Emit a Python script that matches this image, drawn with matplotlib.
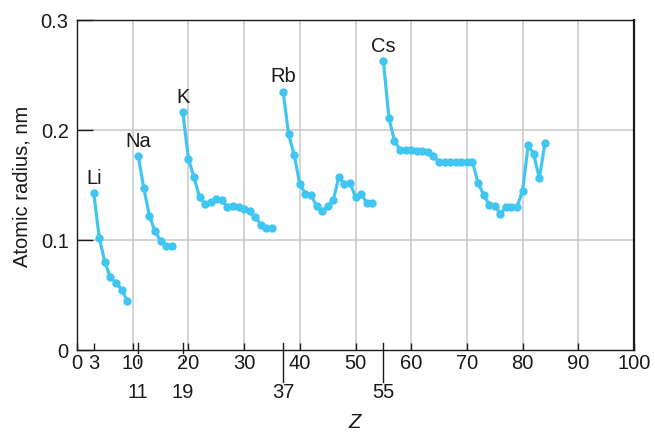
import numpy as np
import matplotlib.pyplot as plt
from matplotlib.transforms import blended_transform_factory

plt.rcParams['font.family'] = ['Liberation Sans', 'DejaVu Sans']

# atomic radius (nm), one list per period
li_z = [3, 4, 5, 6, 7, 8, 9]
li_r = [0.143, 0.102, 0.080, 0.066, 0.061, 0.055, 0.045]

na_z = [11, 12, 13, 14, 15, 16, 17]
na_r = [0.176, 0.147, 0.122, 0.108, 0.099, 0.095, 0.095]

k_z = list(range(19, 36))
k_r = [0.216, 0.174, 0.157, 0.139, 0.133, 0.135, 0.137, 0.136, 0.130,
       0.131, 0.130, 0.128, 0.126, 0.121, 0.114, 0.111, 0.111]

rb_z = list(range(37, 54))
rb_r = [0.235, 0.196, 0.177, 0.151, 0.142, 0.141, 0.131, 0.126, 0.131,
        0.136, 0.157, 0.151, 0.152, 0.139, 0.142, 0.134, 0.134]

cs_z = list(range(55, 85))
cs_r = [0.263, 0.211, 0.190, 0.182, 0.182, 0.182, 0.181, 0.181, 0.180,
        0.176, 0.171, 0.171, 0.171, 0.171, 0.171, 0.171, 0.171, 0.152,
        0.141, 0.132, 0.131, 0.124, 0.130, 0.130, 0.130, 0.145, 0.186,
        0.178, 0.156, 0.188]

series = [("Li", li_z, li_r), ("Na", na_z, na_r), ("K", k_z, k_r),
          ("Rb", rb_z, rb_r), ("Cs", cs_z, cs_r)]

xticks = [0, 3, 10, 20, 30, 40, 50, 60, 70, 80, 90, 100]
yticks = [0, 0.1, 0.2, 0.3]
ytick_labels = ["0", "0.1", "0.2", "0.3"]
short_marks = [11, 19]
long_marks = [37, 55]

blue = '#40c6f1'
grid_c = '#c8c8c8'
ink = '#1a1a1a'
fs = 14.5

fig = plt.figure(figsize=(6.55, 4.32), dpi=100)
ax = fig.add_axes([77/655, 1 - 350/432, 557/655, 330/432])

for g in range(10, 100, 10):
    ax.axvline(g, color=grid_c, lw=1.1, zorder=0)
for g in [0.1, 0.2]:
    ax.axhline(g, color=grid_c, lw=1.1, zorder=0)

for name, z, r in series:
    ax.plot(z, r, '-o', color=blue, lw=2.3, ms=5, zorder=3)
    ax.annotate(name, (z[0], r[0]), xytext=(0, 6.5), textcoords='offset points',
                ha='center', va='baseline', fontsize=fs, color=ink)

ax.set_xlim(0, 100)
ax.set_ylim(0, 0.3)
ax.set_xticks(xticks)
ax.set_xticklabels([str(t) for t in xticks])
ax.set_yticks(yticks)
ax.set_yticklabels(ytick_labels)
ax.tick_params(axis='x', direction='in', length=5, width=1, pad=3,
               labelsize=fs, colors=ink)
ax.tick_params(axis='y', direction='in', length=11.5, width=1, pad=6,
               labelsize=fs, colors=ink)

for s in ax.spines.values():
    s.set_color(ink)
    s.set_linewidth(1.0)
ax.spines['right'].set_linewidth(1.6)

# extra marks for the first element of each period
trans = blended_transform_factory(ax.transData, ax.transAxes)
for z in short_marks:
    ax.plot([z, z], [0.021, -0.009], color=ink, lw=1, transform=trans, clip_on=False)
    ax.plot([z, z], [-0.027, -0.04], color=ink, lw=1, transform=trans, clip_on=False)
for z in long_marks:
    ax.plot([z, z], [0.021, -0.097], color=ink, lw=1, transform=trans, clip_on=False)
for z in short_marks + long_marks:
    ax.text(z, -0.13, str(z), transform=trans, ha='center', va='center',
            fontsize=fs, color=ink)

fig.text(22/655, 1 - 186/432, "Atomic radius, nm", rotation=90,
         ha='center', va='center', fontsize=fs, color=ink)
fig.text(355/655, 1 - 423/432, "Z", style='italic', ha='center', va='center',
         fontsize=fs, color=ink)

fig.savefig('out.png', dpi=100)
